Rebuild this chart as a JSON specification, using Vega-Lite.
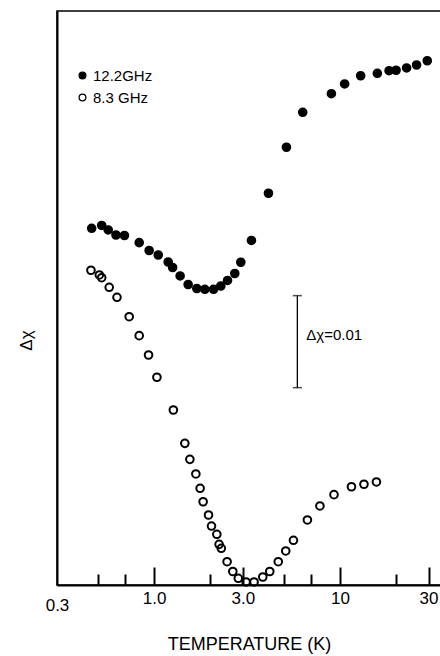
{
  "$schema": "https://vega.github.io/schema/vega-lite/v6.json",
  "width": 384,
  "height": 574,
  "autosize": {"type": "none"},
  "padding": {"left": 57, "top": 11, "right": 0, "bottom": 71},
  "background": "white",
  "config": {
    "view": {"stroke": "black", "strokeWidth": 1.5},
    "font": "Liberation Sans"
  },
  "datasets": {
    "pts": [
      {"T": 0.461, "dchi": 0.03877, "series": "12.2GHz"},
      {"T": 0.522, "dchi": 0.03908, "series": "12.2GHz"},
      {"T": 0.566, "dchi": 0.03859, "series": "12.2GHz"},
      {"T": 0.623, "dchi": 0.03804, "series": "12.2GHz"},
      {"T": 0.692, "dchi": 0.03799, "series": "12.2GHz"},
      {"T": 0.831, "dchi": 0.03721, "series": "12.2GHz"},
      {"T": 0.940, "dchi": 0.03636, "series": "12.2GHz"},
      {"T": 1.052, "dchi": 0.03587, "series": "12.2GHz"},
      {"T": 1.190, "dchi": 0.03511, "series": "12.2GHz"},
      {"T": 1.257, "dchi": 0.03451, "series": "12.2GHz"},
      {"T": 1.380, "dchi": 0.03359, "series": "12.2GHz"},
      {"T": 1.524, "dchi": 0.03266, "series": "12.2GHz"},
      {"T": 1.697, "dchi": 0.03223, "series": "12.2GHz"},
      {"T": 1.875, "dchi": 0.03214, "series": "12.2GHz"},
      {"T": 2.088, "dchi": 0.03214, "series": "12.2GHz"},
      {"T": 2.285, "dchi": 0.03250, "series": "12.2GHz"},
      {"T": 2.483, "dchi": 0.03310, "series": "12.2GHz"},
      {"T": 2.717, "dchi": 0.03386, "series": "12.2GHz"},
      {"T": 2.927, "dchi": 0.03508, "series": "12.2GHz"},
      {"T": 3.340, "dchi": 0.03745, "series": "12.2GHz"},
      {"T": 4.124, "dchi": 0.04258, "series": "12.2GHz"},
      {"T": 5.154, "dchi": 0.04758, "series": "12.2GHz"},
      {"T": 6.305, "dchi": 0.05138, "series": "12.2GHz"},
      {"T": 8.997, "dchi": 0.05340, "series": "12.2GHz"},
      {"T": 10.60, "dchi": 0.05446, "series": "12.2GHz"},
      {"T": 12.93, "dchi": 0.05535, "series": "12.2GHz"},
      {"T": 15.90, "dchi": 0.05562, "series": "12.2GHz"},
      {"T": 18.39, "dchi": 0.05590, "series": "12.2GHz"},
      {"T": 20.06, "dchi": 0.05595, "series": "12.2GHz"},
      {"T": 22.85, "dchi": 0.05620, "series": "12.2GHz"},
      {"T": 25.86, "dchi": 0.05652, "series": "12.2GHz"},
      {"T": 29.52, "dchi": 0.05698, "series": "12.2GHz"},
      {"T": 0.457, "dchi": 0.03421, "series": "8.3 GHz"},
      {"T": 0.507, "dchi": 0.03370, "series": "8.3 GHz"},
      {"T": 0.522, "dchi": 0.03340, "series": "8.3 GHz"},
      {"T": 0.573, "dchi": 0.03236, "series": "8.3 GHz"},
      {"T": 0.631, "dchi": 0.03127, "series": "8.3 GHz"},
      {"T": 0.734, "dchi": 0.02916, "series": "8.3 GHz"},
      {"T": 0.831, "dchi": 0.02710, "series": "8.3 GHz"},
      {"T": 0.933, "dchi": 0.02500, "series": "8.3 GHz"},
      {"T": 1.035, "dchi": 0.02258, "series": "8.3 GHz"},
      {"T": 1.269, "dchi": 0.01902, "series": "8.3 GHz"},
      {"T": 1.463, "dchi": 0.01540, "series": "8.3 GHz"},
      {"T": 1.557, "dchi": 0.01366, "series": "8.3 GHz"},
      {"T": 1.677, "dchi": 0.01207, "series": "8.3 GHz"},
      {"T": 1.768, "dchi": 0.01051, "series": "8.3 GHz"},
      {"T": 1.835, "dchi": 0.00905, "series": "8.3 GHz"},
      {"T": 1.962, "dchi": 0.00761, "series": "8.3 GHz"},
      {"T": 2.036, "dchi": 0.00641, "series": "8.3 GHz"},
      {"T": 2.175, "dchi": 0.00551, "series": "8.3 GHz"},
      {"T": 2.237, "dchi": 0.00442, "series": "8.3 GHz"},
      {"T": 2.299, "dchi": 0.00399, "series": "8.3 GHz"},
      {"T": 2.470, "dchi": 0.00253, "series": "8.3 GHz"},
      {"T": 2.651, "dchi": 0.00147, "series": "8.3 GHz"},
      {"T": 2.838, "dchi": 0.00073, "series": "8.3 GHz"},
      {"T": 3.125, "dchi": 0.00033, "series": "8.3 GHz"},
      {"T": 3.450, "dchi": 0.00033, "series": "8.3 GHz"},
      {"T": 3.843, "dchi": 0.00087, "series": "8.3 GHz"},
      {"T": 4.191, "dchi": 0.00147, "series": "8.3 GHz"},
      {"T": 4.656, "dchi": 0.00253, "series": "8.3 GHz"},
      {"T": 5.109, "dchi": 0.00370, "series": "8.3 GHz"},
      {"T": 5.621, "dchi": 0.00486, "series": "8.3 GHz"},
      {"T": 6.683, "dchi": 0.00707, "series": "8.3 GHz"},
      {"T": 7.804, "dchi": 0.00859, "series": "8.3 GHz"},
      {"T": 9.292, "dchi": 0.00982, "series": "8.3 GHz"},
      {"T": 11.54, "dchi": 0.01068, "series": "8.3 GHz"},
      {"T": 13.47, "dchi": 0.01095, "series": "8.3 GHz"},
      {"T": 15.72, "dchi": 0.01120, "series": "8.3 GHz"}
    ],
    "bar": [
      {"T": 5.9, "lo": 0.02145, "hi": 0.03145, "mid": 0.02717, "label": "Δχ=0.01"}
    ]
  },
  "layer": [
    {
      "data": {"name": "pts"},
      "mark": {"type": "point", "shape": "circle", "size": 58, "stroke": "black", "strokeWidth": 2, "opacity": 1},
      "encoding": {
        "x": {
          "field": "T", "type": "quantitative",
          "scale": {"type": "log", "domain": [0.3, 35], "nice": false, "zero": false},
          "axis": {
            "values": [0.3, 0.5, 0.7, 1, 2, 3, 5, 7, 10, 20, 30],
            "labelExpr": "datum.value == 0.3 ? '0.3' : datum.value == 1 ? '1.0' : datum.value == 3 ? '3.0' : datum.value == 10 ? '10' : datum.value == 30 ? '30' : ''",
            "tickSize": {"condition": {"test": "datum.value == 1 || datum.value == 3 || datum.value == 10 || datum.value == 30", "value": -18}, "value": -11},
            "tickOpacity": {"condition": {"test": "datum.value == 0.3", "value": 0}, "value": 1},
            "tickWidth": 2,
            "tickColor": "black",
            "domainColor": "black",
            "domainWidth": 2,
            "grid": false,
            "labelFontSize": 17,
            "labelColor": "black",
            "labelPadding": 23,
            "labelFlush": false,
            "labelOverlap": false,
            "title": "TEMPERATURE (K)",
            "titleFontSize": 18,
            "titleFontWeight": "normal",
            "titleColor": "black",
            "titlePadding": 22
          }
        },
        "y": {
          "field": "dchi", "type": "quantitative",
          "scale": {"domain": [0, 0.06239], "nice": false, "zero": false},
          "axis": {
            "ticks": false,
            "labels": false,
            "grid": false,
            "domainColor": "black",
            "domainWidth": 2,
            "title": "Δχ",
            "titleFontSize": 17,
            "titleFontWeight": "normal",
            "titleColor": "black",
            "titlePadding": 22,
            "titleY": 329
          }
        },
        "fill": {
          "field": "series", "type": "nominal",
          "scale": {"domain": ["12.2GHz", "8.3 GHz"], "range": ["black", "rgba(0,0,0,0)"]},
          "legend": {
            "orient": "none",
            "legendX": 18,
            "legendY": 57,
            "title": null,
            "padding": 0,
            "symbolType": "circle",
            "symbolSize": 45,
            "symbolStrokeColor": "black",
            "symbolStrokeWidth": 1.3,
            "labelFontSize": 15,
            "labelColor": "black",
            "labelOffset": 3,
            "rowPadding": 6
          }
        }
      }
    },
    {
      "data": {"name": "bar"},
      "mark": {"type": "rule", "color": "black", "strokeWidth": 1.3},
      "encoding": {
        "x": {"field": "T", "type": "quantitative"},
        "y": {"field": "lo", "type": "quantitative"},
        "y2": {"field": "hi"}
      }
    },
    {
      "data": {"name": "bar"},
      "mark": {"type": "tick", "orient": "horizontal", "color": "black", "size": 9, "thickness": 1.5},
      "encoding": {
        "x": {"field": "T", "type": "quantitative"},
        "y": {"field": "lo", "type": "quantitative"}
      }
    },
    {
      "data": {"name": "bar"},
      "mark": {"type": "tick", "orient": "horizontal", "color": "black", "size": 9, "thickness": 1.5},
      "encoding": {
        "x": {"field": "T", "type": "quantitative"},
        "y": {"field": "hi", "type": "quantitative"}
      }
    },
    {
      "data": {"name": "bar"},
      "mark": {"type": "text", "align": "left", "baseline": "middle", "dx": 9, "fontSize": 15, "color": "black"},
      "encoding": {
        "x": {"field": "T", "type": "quantitative"},
        "y": {"field": "mid", "type": "quantitative"},
        "text": {"field": "label"}
      }
    }
  ]
}
